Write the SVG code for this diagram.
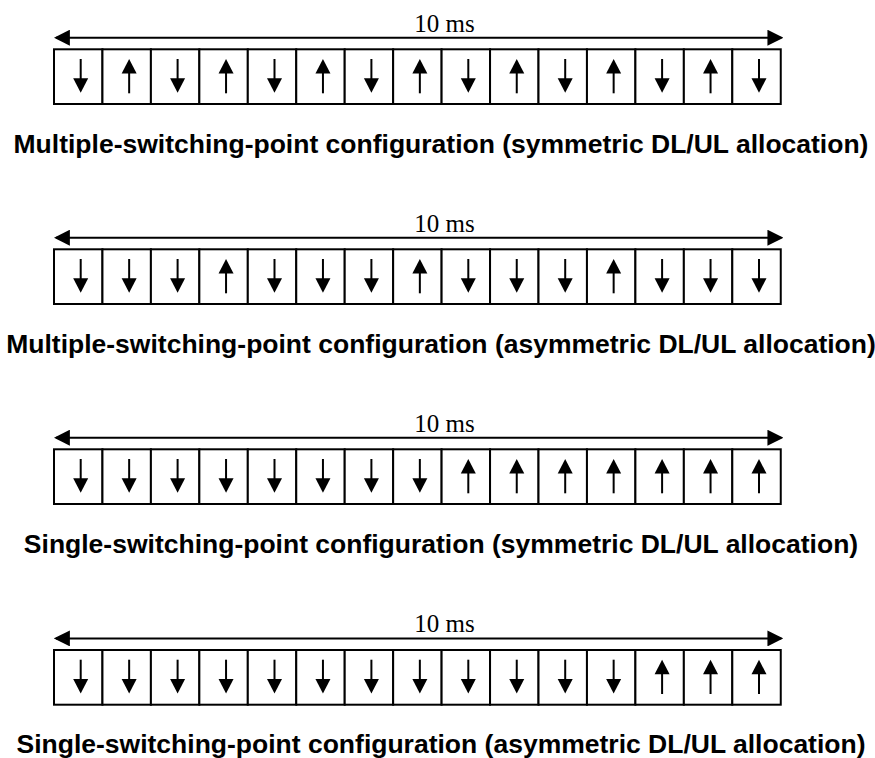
<svg xmlns="http://www.w3.org/2000/svg" xmlns:xlink="http://www.w3.org/1999/xlink" width="875" height="758" viewBox="0 0 875 758">
<style>
.cell{fill:#fff;stroke:#000;stroke-width:2}
.sh{stroke:#000;stroke-width:2}
.hd{fill:#000}
.span{stroke:#000;stroke-width:2;fill:none}
.ms{font-family:"Liberation Serif","Times New Roman",serif;font-size:25px;fill:#000}
.cap{font-family:"Liberation Sans",Arial,sans-serif;font-size:26.5px;font-weight:bold;fill:#000;text-anchor:middle}
</style>
<defs>
<g id="dn"><line class="sh" x1="0" y1="9.7" x2="0" y2="31"/><polygon class="hd" points="-7.5,29 7.5,29 0,43.4"/></g>
<g id="up"><line class="sh" x1="0" y1="22" x2="0" y2="44"/><polygon class="hd" points="-7.5,24.3 7.5,24.3 0,9.7"/></g>
<marker id="ah" markerUnits="userSpaceOnUse" markerWidth="16" markerHeight="16" refX="13" refY="7.5" orient="auto-start-reverse" viewBox="0 0 15 15"><path d="M0,0 L15,7.5 L0,15 z" fill="#000"/></marker>
<g id="cells">
<rect class="cell" x="54" y="49.3" width="48.45" height="54.7"/>
<rect class="cell" x="102.45" y="49.3" width="48.45" height="54.7"/>
<rect class="cell" x="150.9" y="49.3" width="48.45" height="54.7"/>
<rect class="cell" x="199.35" y="49.3" width="48.45" height="54.7"/>
<rect class="cell" x="247.8" y="49.3" width="48.45" height="54.7"/>
<rect class="cell" x="296.25" y="49.3" width="48.45" height="54.7"/>
<rect class="cell" x="344.7" y="49.3" width="48.45" height="54.7"/>
<rect class="cell" x="393.15" y="49.3" width="48.45" height="54.7"/>
<rect class="cell" x="441.6" y="49.3" width="48.45" height="54.7"/>
<rect class="cell" x="490.05" y="49.3" width="48.45" height="54.7"/>
<rect class="cell" x="538.5" y="49.3" width="48.45" height="54.7"/>
<rect class="cell" x="586.95" y="49.3" width="48.45" height="54.7"/>
<rect class="cell" x="635.4" y="49.3" width="48.45" height="54.7"/>
<rect class="cell" x="683.85" y="49.3" width="48.45" height="54.7"/>
<rect class="cell" x="732.3" y="49.3" width="48.45" height="54.7"/>
</g>
</defs>

<g id="connectors">
<line class="span" x1="56" y1="37.7" x2="781.3" y2="37.7" marker-start="url(#ah)" marker-end="url(#ah)"/>
<line class="span" x1="56" y1="237.7" x2="781.3" y2="237.7" marker-start="url(#ah)" marker-end="url(#ah)"/>
<line class="span" x1="56" y1="437.7" x2="781.3" y2="437.7" marker-start="url(#ah)" marker-end="url(#ah)"/>
<line class="span" x1="56" y1="638.4" x2="781.3" y2="638.4" marker-start="url(#ah)" marker-end="url(#ah)"/>
</g>

<g id="frame1">
<text class="ms" x="414.3" y="31.7">10 ms</text>
<use href="#cells"/>
<use href="#dn" x="80.7" y="49.3"/><use href="#up" x="129.15" y="49.3"/><use href="#dn" x="177.6" y="49.3"/><use href="#up" x="226.05" y="49.3"/><use href="#dn" x="274.5" y="49.3"/><use href="#up" x="322.95" y="49.3"/><use href="#dn" x="371.4" y="49.3"/><use href="#up" x="419.85" y="49.3"/><use href="#dn" x="468.3" y="49.3"/><use href="#up" x="516.75" y="49.3"/><use href="#dn" x="565.2" y="49.3"/><use href="#up" x="613.65" y="49.3"/><use href="#dn" x="662.1" y="49.3"/><use href="#up" x="710.55" y="49.3"/><use href="#dn" x="759" y="49.3"/>
<text class="cap" x="441" y="153">Multiple-switching-point configuration (symmetric DL/UL allocation)</text>
</g>

<g id="frame2" transform="translate(0,200)">
<text class="ms" x="414.3" y="31.7">10 ms</text>
<use href="#cells"/>
<use href="#dn" x="80.7" y="49.3"/><use href="#dn" x="129.15" y="49.3"/><use href="#dn" x="177.6" y="49.3"/><use href="#up" x="226.05" y="49.3"/><use href="#dn" x="274.5" y="49.3"/><use href="#dn" x="322.95" y="49.3"/><use href="#dn" x="371.4" y="49.3"/><use href="#up" x="419.85" y="49.3"/><use href="#dn" x="468.3" y="49.3"/><use href="#dn" x="516.75" y="49.3"/><use href="#dn" x="565.2" y="49.3"/><use href="#up" x="613.65" y="49.3"/><use href="#dn" x="662.1" y="49.3"/><use href="#dn" x="710.55" y="49.3"/><use href="#dn" x="759" y="49.3"/>
<text class="cap" x="441" y="153">Multiple-switching-point configuration (asymmetric DL/UL allocation)</text>
</g>

<g id="frame3" transform="translate(0,400)">
<text class="ms" x="414.3" y="31.7">10 ms</text>
<use href="#cells"/>
<use href="#dn" x="80.7" y="49.3"/><use href="#dn" x="129.15" y="49.3"/><use href="#dn" x="177.6" y="49.3"/><use href="#dn" x="226.05" y="49.3"/><use href="#dn" x="274.5" y="49.3"/><use href="#dn" x="322.95" y="49.3"/><use href="#dn" x="371.4" y="49.3"/><use href="#dn" x="419.85" y="49.3"/><use href="#up" x="468.3" y="49.3"/><use href="#up" x="516.75" y="49.3"/><use href="#up" x="565.2" y="49.3"/><use href="#up" x="613.65" y="49.3"/><use href="#up" x="662.1" y="49.3"/><use href="#up" x="710.55" y="49.3"/><use href="#up" x="759" y="49.3"/>
<text class="cap" x="441" y="153">Single-switching-point configuration (symmetric DL/UL allocation)</text>
</g>

<g id="frame4" transform="translate(0,600.7)">
<text class="ms" x="414.3" y="31.7">10 ms</text>
<use href="#cells"/>
<use href="#dn" x="80.7" y="49.3"/><use href="#dn" x="129.15" y="49.3"/><use href="#dn" x="177.6" y="49.3"/><use href="#dn" x="226.05" y="49.3"/><use href="#dn" x="274.5" y="49.3"/><use href="#dn" x="322.95" y="49.3"/><use href="#dn" x="371.4" y="49.3"/><use href="#dn" x="419.85" y="49.3"/><use href="#dn" x="468.3" y="49.3"/><use href="#dn" x="516.75" y="49.3"/><use href="#dn" x="565.2" y="49.3"/><use href="#dn" x="613.65" y="49.3"/><use href="#up" x="662.1" y="49.3"/><use href="#up" x="710.55" y="49.3"/><use href="#up" x="759" y="49.3"/>
<text class="cap" x="441" y="152">Single-switching-point configuration (asymmetric DL/UL allocation)</text>
</g>
</svg>
